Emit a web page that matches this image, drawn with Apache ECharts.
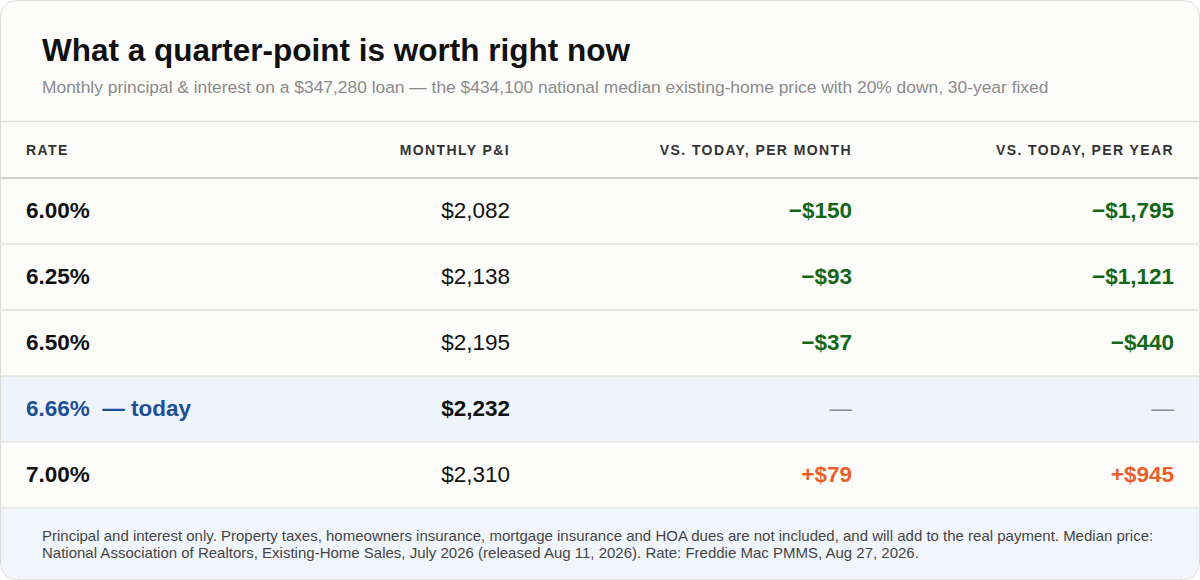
<!DOCTYPE html>
<html>
<head>
<meta charset="utf-8">
<script src="https://cdn.jsdelivr.net/npm/echarts@6.0.0/dist/echarts.min.js"></script>
<style>
html,body{margin:0;padding:0;background:#fff;}
#chart{width:1200px;height:580px;}
</style>
</head>
<body>
<div id="chart"></div>
<script>
// table values
var rates = [6.00, 6.25, 6.50, 6.66, 7.00];
var payments = [2082, 2138, 2195, 2232, 2310];
var perMonth = [-150, -93, -37, 0, 79];
var perYear = [-1795, -1121, -440, 0, 945];
var todayIndex = 3;
var headers = ['RATE', 'MONTHLY P&I', 'VS. TODAY, PER MONTH', 'VS. TODAY, PER YEAR'];
var titleText = 'What a quarter-point is worth right now';
var subText = 'Monthly principal & interest on a $347,280 loan \u2014 the $434,100 national median existing-home price with 20% down, 30-year fixed';
var noteLines = [
  'Principal and interest only. Property taxes, homeowners insurance, mortgage insurance and HOA dues are not included, and will add to the real payment. Median price:',
  'National Association of Realtors, Existing-Home Sales, July 2026 (released Aug 11, 2026). Rate: Freddie Mac PMMS, Aug 27, 2026.'
];

// layout
var FONT = '"Liberation Sans", Arial, sans-serif';
var colX = [26, 510, 852, 1174];
var colAlign = ['left', 'right', 'right', 'right'];
var GREEN = '#136716', ORANGE = '#e8602c', BLUE = '#1e4e95';
var ROW_FONT = 22.5;

function money(v){
  return '$' + Math.abs(v).toLocaleString('en-US');
}
function diff(v){
  if(v === 0) return '\u2014';
  return (v < 0 ? '\u2212' : '+') + money(v);
}
function diffColor(v){
  if(v === 0) return '#8c8c8c';
  return v < 0 ? GREEN : ORANGE;
}

function renderRow(params, api){
  var i = params.dataIndex;
  var p = api.coord([0, i]);
  var h = api.size([0, 1])[1];
  var cy = p[1] - 1;
  var today = i === todayIndex;
  var kids = [];
  if(today){
    kids.push({
      type: 'rect',
      shape: {x: 1, y: p[1] - h / 2 + 1, width: 1198, height: h - 2},
      style: {fill: '#eef4fc'}
    });
  }
  var cells = [
    {text: rates[i].toFixed(2) + '%' + (today ? '\u00a0 \u2014 today' : ''), color: today ? BLUE : '#111', weight: 'bold'},
    {text: money(payments[i]), color: '#111', weight: today ? 'bold' : 'normal'},
    {text: diff(perMonth[i]), color: diffColor(perMonth[i]), weight: perMonth[i] === 0 ? 'normal' : 'bold'},
    {text: diff(perYear[i]), color: diffColor(perYear[i]), weight: perYear[i] === 0 ? 'normal' : 'bold'}
  ];
  cells.forEach(function(c, k){
    kids.push({
      type: 'text',
      x: api.coord([colX[k], i])[0],
      y: cy,
      style: {
        text: c.text, fill: c.color, fontSize: ROW_FONT, fontWeight: c.weight,
        fontFamily: FONT, align: colAlign[k], verticalAlign: 'middle'
      }
    });
  });
  return {type: 'group', children: kids};
}

var chart = echarts.init(document.getElementById('chart'), null, {renderer: 'svg'});

var graphics = [
  {type: 'rect', z: -10, shape: {x: 0.5, y: 0.5, width: 1199, height: 579, r: 16},
    style: {fill: '#fcfcfa', stroke: '#dcdad4', lineWidth: 1}},
  {type: 'rect', z: -5, shape: {x: 1, y: 508.5, width: 1198, height: 70, r: [0, 0, 15, 15]},
    style: {fill: '#f1f5fc'}},
  {type: 'line', z: -4, shape: {x1: 1, y1: 121.5, x2: 1199, y2: 121.5},
    style: {stroke: '#e2e0da', lineWidth: 1.5}},
  {type: 'text', x: 42, y: 50, style: {text: titleText, fill: '#111', fontSize: 31.5, fontWeight: 'bold',
    fontFamily: FONT, align: 'left', verticalAlign: 'middle'}},
  {type: 'text', x: 42, y: 87, style: {text: subText, fill: '#8b8b8b', fontSize: 17.4,
    fontFamily: FONT, align: 'left', verticalAlign: 'middle'}},
  {type: 'text', x: 42, y: 544, style: {text: noteLines.join('\n'), fill: '#454545', fontSize: 15,
    lineHeight: 16.5, fontFamily: FONT, align: 'left', verticalAlign: 'middle'}}
];
headers.forEach(function(t, k){
  graphics.push({type: 'text', x: colX[k], y: 150, style: {text: t, fill: '#333', fontSize: 14,
    fontWeight: 'bold', fontFamily: FONT, align: colAlign[k], verticalAlign: 'middle'}});
});

chart.setOption({
  animation: false,
  graphic: graphics,
  grid: {left: 0, right: 0, top: 178, bottom: 72},
  xAxis: {
    type: 'value', min: 0, max: 1200, position: 'top',
    axisLine: {show: true, lineStyle: {color: '#d3d1c9', width: 2}},
    axisTick: {show: false}, axisLabel: {show: false}, splitLine: {show: false}
  },
  yAxis: {
    type: 'category', inverse: true,
    data: rates.map(function(r){ return r.toFixed(2) + '%'; }),
    axisLine: {show: false}, axisTick: {show: false}, axisLabel: {show: false},
    splitLine: {show: true, interval: 0, lineStyle: {color: '#e4e2dc', width: 1.5}}
  },
  series: [{
    type: 'custom',
    silent: true,
    renderItem: renderRow,
    data: rates.map(function(r, i){ return [0, i]; })
  }]
});

// header letter-spacing (svg renderer)
function spaceHeaders(){
  var nodes = document.querySelectorAll('#chart svg text');
  nodes.forEach(function(n){
    if(headers.indexOf(n.textContent) >= 0){
      n.style.letterSpacing = '1.4px';
    }
  });
}
spaceHeaders();
chart.on('finished', spaceHeaders);
</script>
</body>
</html>
